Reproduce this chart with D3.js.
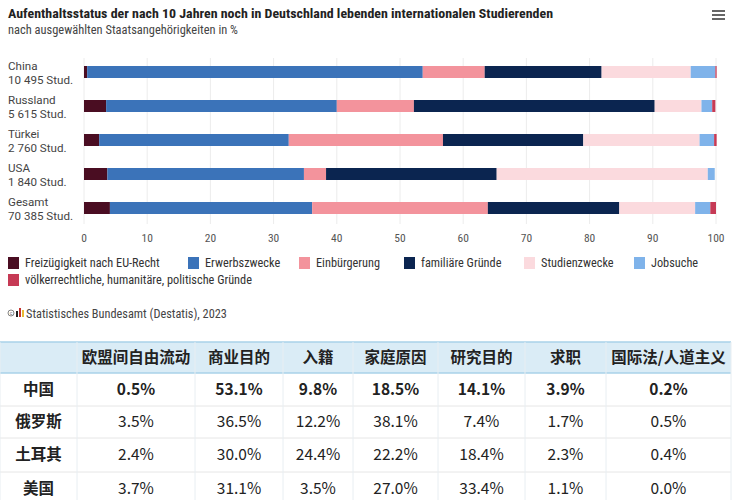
<!DOCTYPE html>
<html>
<head>
<meta charset="utf-8">
<script src="https://cdn.jsdelivr.net/npm/d3@7"></script>
<style>
  html, body { margin: 0; padding: 0; background: #fff; }
  svg { display: block; }
</style>
</head>
<body>
<div id="chart"></div>
<script>
// Data

const countries = ["China", "Russland", "Türkei", "USA", "Gesamt"];
const students = ["10 495 Stud.", "5 615 Stud.", "2 760 Stud.", "1 840 Stud.", "70 385 Stud."];
const countriesZh = ["中国", "俄罗斯", "土耳其", "美国"];

const reasons = ["Freizügigkeit nach EU-Recht", "Erwerbszwecke", "Einbürgerung", "familiäre Gründe",
  "Studienzwecke", "Jobsuche", "völkerrechtliche, humanitäre, politische Gründe"];
const reasonsZh = ["欧盟间自由流动", "商业目的", "入籍", "家庭原因", "研究目的", "求职", "国际法/人道主义"];

const freizuegigkeit = [0.5, 3.5, 2.4, 3.7, 4.1];
const erwerb = [53.1, 36.5, 30.0, 31.1, 32.0];
const einbuergerung = [9.8, 12.2, 24.4, 3.5, 27.8];
const familiaer = [18.5, 38.1, 22.2, 27.0, 20.8];
const studien = [14.1, 7.4, 18.4, 33.4, 12.0];
const jobsuche = [3.9, 1.7, 2.3, 1.1, 2.4];
const humanitaer = [0.2, 0.5, 0.4, 0.0, 0.9];

const xTicks = [0, 10, 20, 30, 40, 50, 60, 70, 80, 90, 100];

const colors = ["#4a0d22", "#3b73b9", "#f3939c", "#0b2550", "#fbdade", "#7fb3ea", "#c63a55"];

// Config

const width = 733;
const height = 500;
const condensed = "'Liberation Sans Narrow', 'Roboto Condensed', Roboto, sans-serif";
const sans = "Roboto, 'Open Sans', sans-serif";
const cjk = "'Noto Sans CJK SC', sans-serif";

const svg = d3.select("#chart")
  .append("svg")
  .attr("width", width)
  .attr("height", height)
  .attr("viewBox", [0, 0, width, height]);

// Title block

svg.append("text")
  .attr("x", 8).attr("y", 18)
  .attr("font-family", condensed)
  .attr("font-weight", "bold")
  .attr("font-size", 13.5)
  .attr("fill", "#222")
  .attr("textLength", 545).attr("lengthAdjust", "spacingAndGlyphs")
  .text("Aufenthaltsstatus der nach 10 Jahren noch in Deutschland lebenden internationalen Studierenden");

svg.append("text")
  .attr("x", 8).attr("y", 34)
  .attr("font-family", condensed)
  .attr("font-size", 12)
  .attr("fill", "#444")
  .attr("textLength", 230).attr("lengthAdjust", "spacingAndGlyphs")
  .text("nach ausgewählten Staatsangehörigkeiten in %");

// hamburger menu
svg.append("g")
  .selectAll("rect")
  .data([0, 1, 2])
  .join("rect")
  .attr("x", 712).attr("y", d => 10 + d * 4)
  .attr("width", 13).attr("height", 2)
  .attr("fill", "#666");

// Scales

const xScale = d3.scaleLinear().domain([0, 100]).range([84, 716]);
const yScale = d3.scaleBand().domain(countries).range([55, 225]).padding(0);
const barH = 12;

// Grid + axis labels

svg.append("g")
  .selectAll("line")
  .data(xTicks)
  .join("line")
  .attr("x1", d => xScale(d)).attr("x2", d => xScale(d))
  .attr("y1", 58).attr("y2", 224)
  .attr("stroke", "#ececec");

svg.append("g")
  .selectAll("text")
  .data(xTicks)
  .join("text")
  .attr("x", d => xScale(d))
  .attr("y", 242)
  .attr("text-anchor", "middle")
  .attr("font-family", condensed)
  .attr("font-size", 11.5)
  .attr("fill", "#555")
  .text(d => d);

// Category labels

const labels = svg.append("g")
  .selectAll("g")
  .data(countries)
  .join("g")
  .attr("font-family", sans)
  .attr("font-size", 11.6)
  .attr("fill", "#444");

labels.append("text")
  .attr("x", 8)
  .attr("y", d => yScale(d) + yScale.bandwidth() / 2 - 2.5)
  .text(d => d);

labels.append("text")
  .attr("x", 8)
  .attr("y", (d, i) => yScale(countries[i]) + yScale.bandwidth() / 2 + 11.5)
  .text((d, i) => students[i]);

// Stacked bars

const series = [freizuegigkeit, erwerb, einbuergerung, familiaer, studien, jobsuche, humanitaer];
const rows = countries.map((c, i) => {
  const row = { country: c };
  reasons.forEach((r, k) => row[r] = series[k][i]);
  return row;
});

const stacked = d3.stack().keys(reasons)(rows);

svg.append("g")
  .selectAll("g")
  .data(stacked)
  .join("g")
  .attr("fill", (d, i) => colors[i])
  .selectAll("rect")
  .data(d => d)
  .join("rect")
  .attr("x", d => xScale(d[0]))
  .attr("y", d => yScale(d.data.country) + yScale.bandwidth() / 2 - barH / 2)
  .attr("width", d => Math.max(0, xScale(d[1]) - xScale(d[0])))
  .attr("height", barH);

// Legend

const legendPos = [[8, 263], [188, 263], [299, 263], [404, 263], [524, 263], [634, 263], [8, 280]];

const legend = svg.append("g")
  .selectAll("g")
  .data(reasons)
  .join("g")
  .attr("transform", (d, i) => `translate(${legendPos[i][0]}, ${legendPos[i][1]})`);

legend.append("rect")
  .attr("x", 0).attr("y", -6)
  .attr("width", 11).attr("height", 12)
  .attr("fill", (d, i) => colors[i]);

legend.append("text")
  .attr("x", 17).attr("y", 4)
  .attr("font-family", condensed)
  .attr("font-size", 12.3)
  .attr("fill", "#333")
  .text(d => d);

// Source

const src = svg.append("g").attr("transform", "translate(8, 313)");
src.append("circle").attr("cx", 3).attr("cy", 0).attr("r", 3)
  .attr("fill", "none").attr("stroke", "#666").attr("stroke-width", 0.8);
src.append("text").attr("x", 3).attr("y", 1.8).attr("text-anchor", "middle")
  .attr("font-family", sans).attr("font-size", 5).attr("fill", "#666").text("c");
src.append("rect").attr("x", 8).attr("y", -2).attr("width", 2).attr("height", 6).attr("fill", "#222");
src.append("rect").attr("x", 11).attr("y", -5).attr("width", 2).attr("height", 9).attr("fill", "#c4332f");
src.append("rect").attr("x", 14).attr("y", -3).attr("width", 2).attr("height", 7).attr("fill", "#e8b931");
src.append("text")
  .attr("x", 18).attr("y", 4.5)
  .attr("font-family", condensed)
  .attr("font-size", 12.3)
  .attr("fill", "#444")
  .text("Statistisches Bundesamt (Destatis), 2023");

// Table

const colEdges = [0, 77, 195, 283, 353, 438, 525, 606, 731];
const rowEdges = [342, 373, 406, 438, 472, 505];

const table = svg.append("g");

table.append("rect")
  .attr("x", colEdges[0]).attr("y", rowEdges[0])
  .attr("width", colEdges[8] - colEdges[0]).attr("height", rowEdges[1] - rowEdges[0])
  .attr("fill", "#daecf6");

// horizontal lines
table.append("g")
  .selectAll("line")
  .data(rowEdges.slice(0, 5))
  .join("line")
  .attr("x1", 0).attr("x2", 731)
  .attr("y1", d => d).attr("y2", d => d)
  .attr("stroke", (d, i) => i < 2 ? "#a9d2e8" : "#e6e6e6")
  .attr("stroke-width", (d, i) => i < 2 ? 1.5 : 1);

// vertical lines
table.append("g")
  .selectAll("line")
  .data(colEdges)
  .join("line")
  .attr("x1", d => d).attr("x2", d => d)
  .attr("y1", rowEdges[0]).attr("y2", 500)
  .attr("stroke", "#e8eef2");

// header
table.append("g")
  .selectAll("text")
  .data(reasonsZh)
  .join("text")
  .attr("x", (d, i) => (colEdges[i + 1] + colEdges[i + 2]) / 2)
  .attr("y", 363)
  .attr("text-anchor", "middle")
  .attr("font-family", cjk)
  .attr("font-weight", "bold")
  .attr("font-size", 15.5)
  .attr("fill", "#222")
  .text(d => d);

// rows
const tRows = table.append("g")
  .selectAll("g")
  .data(countriesZh)
  .join("g")
  .attr("font-family", cjk)
  .attr("font-size", 15.5)
  .attr("fill", "#222")
  .attr("font-weight", (d, i) => i === 0 ? "bold" : "normal");

tRows.append("text")
  .attr("x", (colEdges[0] + colEdges[1]) / 2)
  .attr("y", (d, i) => (rowEdges[i + 1] + rowEdges[i + 2]) / 2 + 5)
  .attr("text-anchor", "middle")
  .attr("font-weight", "bold")
  .text(d => d);

tRows.each(function (d, i) {
  d3.select(this).selectAll("text.val")
    .data(series)
    .join("text")
    .attr("class", "val")
    .attr("x", (s, k) => (colEdges[k + 1] + colEdges[k + 2]) / 2)
    .attr("y", (rowEdges[i + 1] + rowEdges[i + 2]) / 2 + 5)
    .attr("text-anchor", "middle")
    .text(s => s[i].toFixed(1) + "%");
});
</script>
</body>
</html>
